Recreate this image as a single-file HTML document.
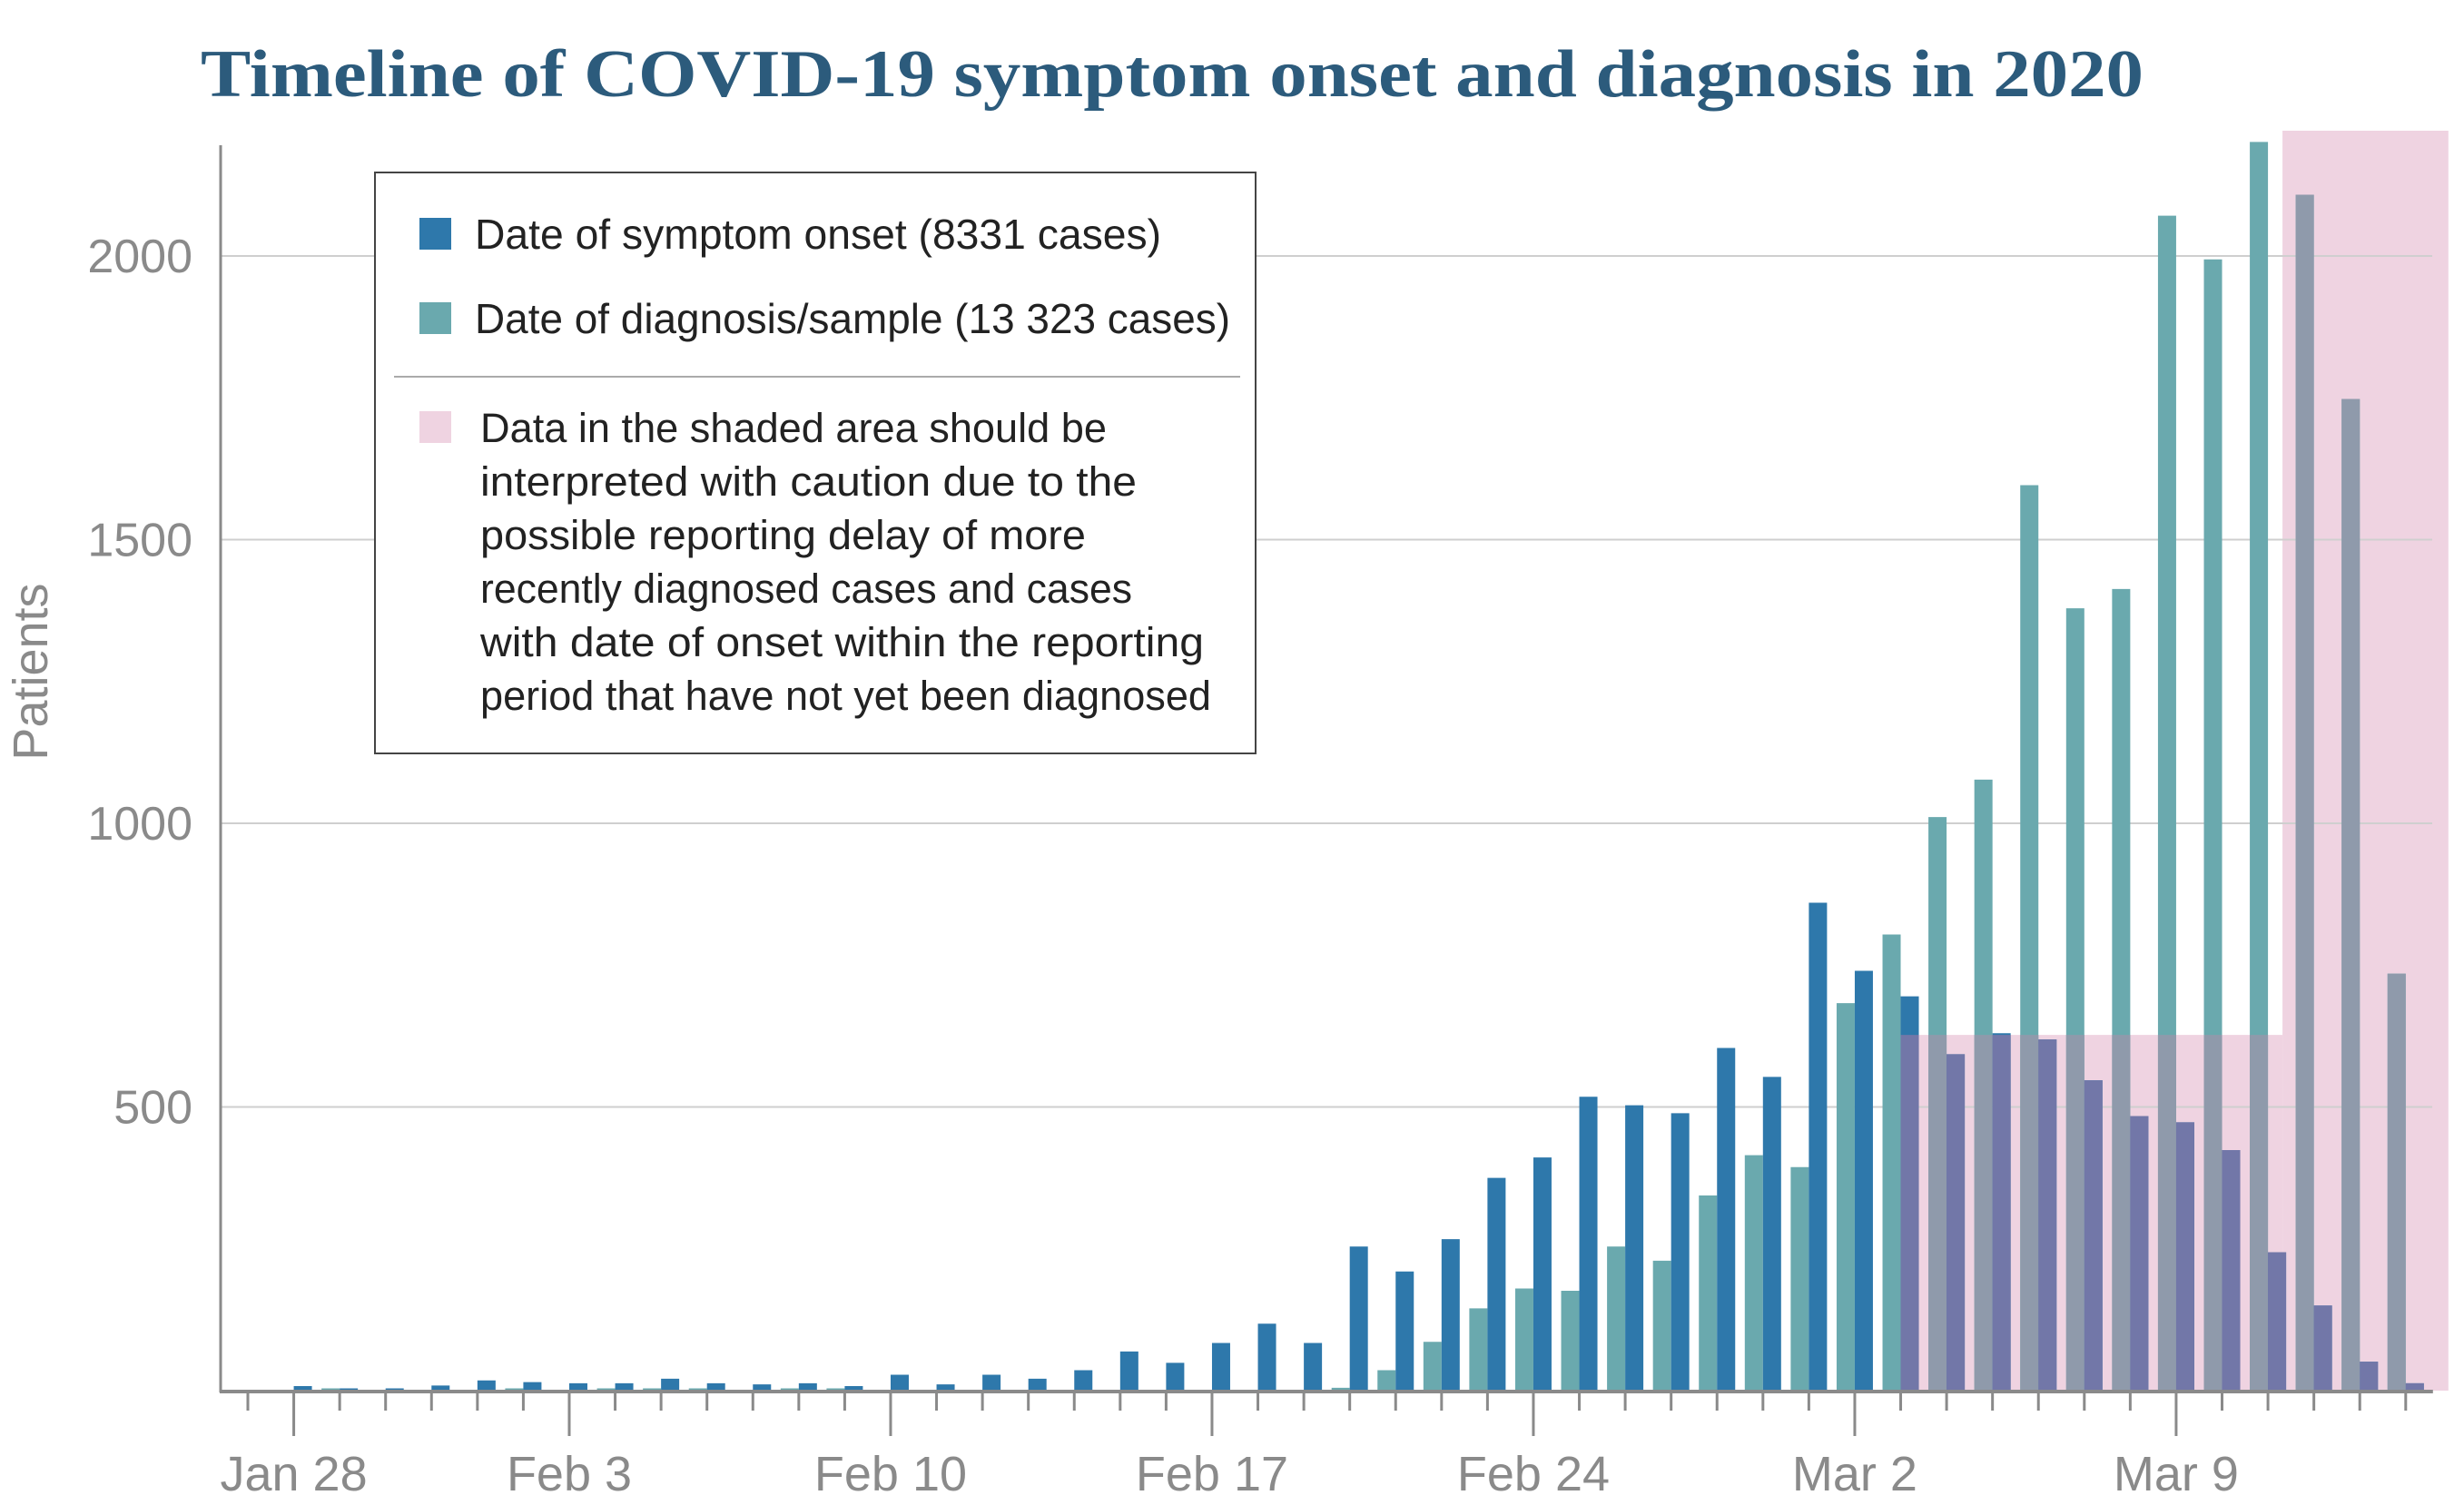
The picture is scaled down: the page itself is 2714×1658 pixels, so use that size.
<!DOCTYPE html>
<html><head><meta charset="utf-8"><style>
html,body{margin:0;padding:0;background:#fff;}
svg{display:block;}
</style></head><body>
<svg id="chart" width="2714" height="1658" viewBox="0 0 2714 1658" xmlns="http://www.w3.org/2000/svg" font-family="'Liberation Sans', sans-serif">
<defs>
<clipPath id="shadeClip"><rect id="clipLow" x="0" y="0" width="0" height="0"/><rect id="clipHigh" x="0" y="0" width="0" height="0"/></clipPath>
</defs>
<text x="221" y="106" font-family="'Liberation Serif', serif" font-weight="bold" font-size="74" fill="#2c5b7c" textLength="2140" lengthAdjust="spacingAndGlyphs">Timeline of COVID-19 symptom onset and diagnosis in 2020</text>
<g id="shade"></g>
<g id="grid"></g>
<g id="bars"></g>
<g id="axes"></g>
<text transform="translate(52,740) rotate(-90)" text-anchor="middle" font-size="54" fill="#8a8a8a">Patients</text>
<g>
<rect x="413" y="190" width="970" height="640" fill="#fff" stroke="#444" stroke-width="2"/>
<rect x="462" y="240" width="35" height="35" fill="#2e78ab"/>
<text x="523" y="274" font-size="46" fill="#222" textLength="756" lengthAdjust="spacingAndGlyphs">Date of symptom onset (8331 cases)</text>
<rect x="462" y="333" width="35" height="35" fill="#6aa9ae"/>
<text x="523" y="367" font-size="46" fill="#222" textLength="832" lengthAdjust="spacingAndGlyphs">Date of diagnosis/sample (13 323 cases)</text>
<line x1="434" y1="415" x2="1366" y2="415" stroke="#aaa" stroke-width="2"/>
<rect x="462" y="453" width="35" height="35" fill="#efd3e1"/>
<g font-size="45" fill="#222">
<text x="529" y="487" textLength="690" lengthAdjust="spacingAndGlyphs">Data in the shaded area should be</text>
<text x="529" y="546" textLength="723" lengthAdjust="spacingAndGlyphs">interpreted with caution due to the</text>
<text x="529" y="605" textLength="667" lengthAdjust="spacingAndGlyphs">possible reporting delay of more</text>
<text x="529" y="664" textLength="718" lengthAdjust="spacingAndGlyphs">recently diagnosed cases and cases</text>
<text x="529" y="723" textLength="797" lengthAdjust="spacingAndGlyphs">with date of onset within the reporting</text>
<text x="529" y="782" textLength="805" lengthAdjust="spacingAndGlyphs">period that have not yet been diagnosed</text>
</g>
</g>
</svg>
<script>
// Days Jan 27 .. Mar 14 (index 0..47)
const onset = [0,8,4,4,9,18,15,13,13,21,13,11,13,8,28,11,28,21,36,69,49,84,118,84,254,210,267,375,411,518,503,489,604,553,860,740,695,593,630,619,547,484,473,424,244,150,51,13];
const diagnosis = [0,0,4,0,0,0,4,0,4,4,4,0,4,4,0,0,0,0,0,0,0,0,0,0,5,36,86,145,180,176,254,229,344,415,394,683,804,1011,1077,1596,1379,1413,2071,1994,2201,2108,1748,735];
const tickLabels = ["Jan 28","Feb 3","Feb 10","Feb 17","Feb 24","Mar 2","Mar 9"];
const tickLabelDays = [1,7,14,21,28,35,42];
const yTicks = [500,1000,1500,2000];
const shadeLowStartDay = 36, shadeLowEndDay = 44, shadeLowValue = 627, shadeEndDay = 47;

const NS="http://www.w3.org/2000/svg";
const x0=273, dx=50.57, barW=20, yBase=1532, ppv=0.625;
const X=d=>x0+d*dx;
const Y=v=>yBase-v*ppv;
function mk(tag,attrs,parent){const e=document.createElementNS(NS,tag);for(const k in attrs)e.setAttribute(k,attrs[k]);parent.appendChild(e);return e;}

// shaded area
const shade=document.getElementById('shade');
const lowX=X(shadeLowStartDay), lowX2=X(shadeLowEndDay)+barW*0.8, highX2=X(shadeEndDay)+47;
const sl=mk('rect',{x:lowX,y:Y(shadeLowValue),width:lowX2-lowX,height:yBase-Y(shadeLowValue),fill:'#efd3e1'},shade);


const sh=mk('rect',{x:lowX2,y:144,width:highX2-lowX2,height:yBase-144,fill:'#efd3e1'},shade);


const cl=document.getElementById('clipLow');
cl.setAttribute('x',lowX);cl.setAttribute('y',Y(shadeLowValue));cl.setAttribute('width',lowX2-lowX);cl.setAttribute('height',yBase-Y(shadeLowValue));
const ch=document.getElementById('clipHigh');
ch.setAttribute('x',lowX2);ch.setAttribute('y',144);ch.setAttribute('width',highX2-lowX2);ch.setAttribute('height',yBase-144);

// grid + y labels
const grid=document.getElementById('grid');
yTicks.forEach(v=>{
  const l=mk('line',{x1:243,x2:2679,y1:Y(v),y2:Y(v),stroke:'#cfcfcf','stroke-width':2},grid);
  
  
  const t=mk('text',{x:212,y:Y(v)+18,'text-anchor':'end','font-size':52,fill:'#8a8a8a'},grid);
  t.textContent=v;
  
  
});

// bars
const bars=document.getElementById('bars');
const normalG=mk('g',{},bars);


const shadedG=mk('g',{'clip-path':'url(#shadeClip)'},bars);


for(let d=0;d<onset.length;d++){
  if(diagnosis[d]>0){
    const b=mk('rect',{x:X(d)-barW,y:Y(diagnosis[d]),width:barW,height:diagnosis[d]*ppv,fill:'#6aa9ae'},normalG);
    
    
    const s=mk('rect',{x:X(d)-barW,y:Y(diagnosis[d]),width:barW,height:diagnosis[d]*ppv,fill:'#8f9aab'},shadedG);
    
    
  }
  if(onset[d]>0){
    const b=mk('rect',{x:X(d),y:Y(onset[d]),width:barW,height:onset[d]*ppv,fill:'#2e78ab'},normalG);
    
    
    const s=mk('rect',{x:X(d),y:Y(onset[d]),width:barW,height:onset[d]*ppv,fill:'#7277a8'},shadedG);
    
    
  }
}

// axes
const axes=document.getElementById('axes');
const ya=mk('line',{x1:243,x2:243,y1:160,y2:yBase+2,stroke:'#8a8a8a','stroke-width':3},axes);


const xa=mk('line',{x1:242,x2:X(onset.length-1)+30,y1:yBase+1,y2:yBase+1,stroke:'#8a8a8a','stroke-width':4},axes);


for(let d=0;d<onset.length;d++){
  const major=tickLabelDays.indexOf(d)>=0;
  const t=mk('line',{x1:X(d),x2:X(d),y1:yBase,y2:major?1582:1554,stroke:'#8a8a8a','stroke-width':3},axes);
  
  
}
tickLabels.forEach((s,i)=>{
  const t=mk('text',{x:X(tickLabelDays[i]),y:1642,'text-anchor':'middle','font-size':54,fill:'#8a8a8a'},axes);
  t.textContent=s;
  
  
});
</script>
</body></html>
